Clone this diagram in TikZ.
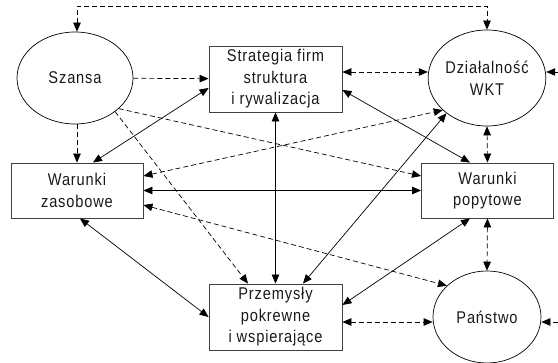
\documentclass[tikz,border=0pt]{standalone}
\usepackage{fontspec}
\setmainfont{Liberation Sans}[FakeStretch=0.86,LetterSpace=5]
\usetikzlibrary{arrows.meta,shapes.geometric}
\newcommand\txtfont{\fontsize{17}{21.5}\selectfont}
\begin{document}
\begin{tikzpicture}[x=1pt,y=-1pt,
  >={Triangle[length=9pt,width=7.5pt]},
  box/.style={draw=black!75,line width=0.9pt,rectangle,minimum width=133pt,minimum height=66pt,inner sep=0pt,align=center,font=\txtfont,text=black!90},
  boxs/.style={box,minimum width=132pt,minimum height=55pt},
  ell/.style={draw,line width=0.7pt,ellipse,inner sep=0pt,align=center,font=\txtfont,text=black!90},
  sol/.style={line width=0.7pt,<->},
  dsh/.style={line width=0.7pt,dash pattern=on 5pt off 3pt}
]
\useasboundingbox (0,0) rectangle (558,363);

\node[ell,minimum width=116pt,minimum height=92pt] (sz) at (75,78) {Szansa};
\node[box] (st) at (275.5,79) {Strategia firm\\struktura\\i rywalizacja};
\node[ell,minimum width=108pt,minimum height=96pt] (dz) at (487,78) {Działalność\\WKT};
\node[boxs] (zas) at (77,190.5) {Warunki\\zasobowe};
\node[boxs] (pop) at (487.5,190.5) {Warunki\\popytowe};
\node[box] (prz) at (275.5,317) {Przemysły\\pokrewne\\i wspierające};
\node[ell,minimum width=108pt,minimum height=92pt] (pa) at (487,317) {Państwo};

\coordinate (tl) at (77,6);
\coordinate (tr) at (487,6);
\coordinate (r1) at (558,72);
\coordinate (r2) at (558,322);

% dashed connectors
\draw[dsh,<->] ([xshift=2pt]sz.north) -- (tl) -- (tr) -- (dz.north);
\draw[dsh,->] (sz) -- (st);
\draw[dsh,->] ([xshift=2pt]sz.south) -- (zas.north);
\draw[dsh,->] (sz.-35) -- ([yshift=14.5pt]pop.west);
\draw[dsh,->] (sz.-40) -- ([xshift=-27.5pt]prz.north);
\draw[dsh,<->] ([yshift=7pt]st.east) -- ([yshift=6pt]dz.west);
\draw[dsh,<->] ([yshift=14.5pt]zas.east) -- (dz.216);
\draw[dsh,<->] ([yshift=-14.5pt]zas.east) -- (pa.142);
\draw[dsh,<->] ([yshift=-5pt]prz.east) -- ([yshift=-5pt]pa.west);
\draw[dsh,<->] (dz.south) -- (pop.north);
\draw[dsh,<->] (pop.south) -- (pa.north);
\draw[dsh,->] (r1) -- ([yshift=6pt]dz.east);
\draw[dsh,->] (r2) -- ([yshift=-5pt]pa.east);

% solid connectors
\draw[sol] ([yshift=-9pt]st.west) -- ([xshift=16pt]zas.north);
\draw[sol] ([yshift=-11pt]st.east) -- ([xshift=-17.5pt]pop.north);
\draw[sol] (st.south) -- (prz.north);
\draw[sol] (zas.east) -- (pop.west);
\draw[sol] ([xshift=27.5pt]prz.north) -- (dz.221);
\draw[sol] ([xshift=3pt]zas.south) -- (prz.west);
\draw[sol] ([xshift=-17.5pt]pop.south) -- ([yshift=12pt]prz.east);
\end{tikzpicture}
\end{document}
